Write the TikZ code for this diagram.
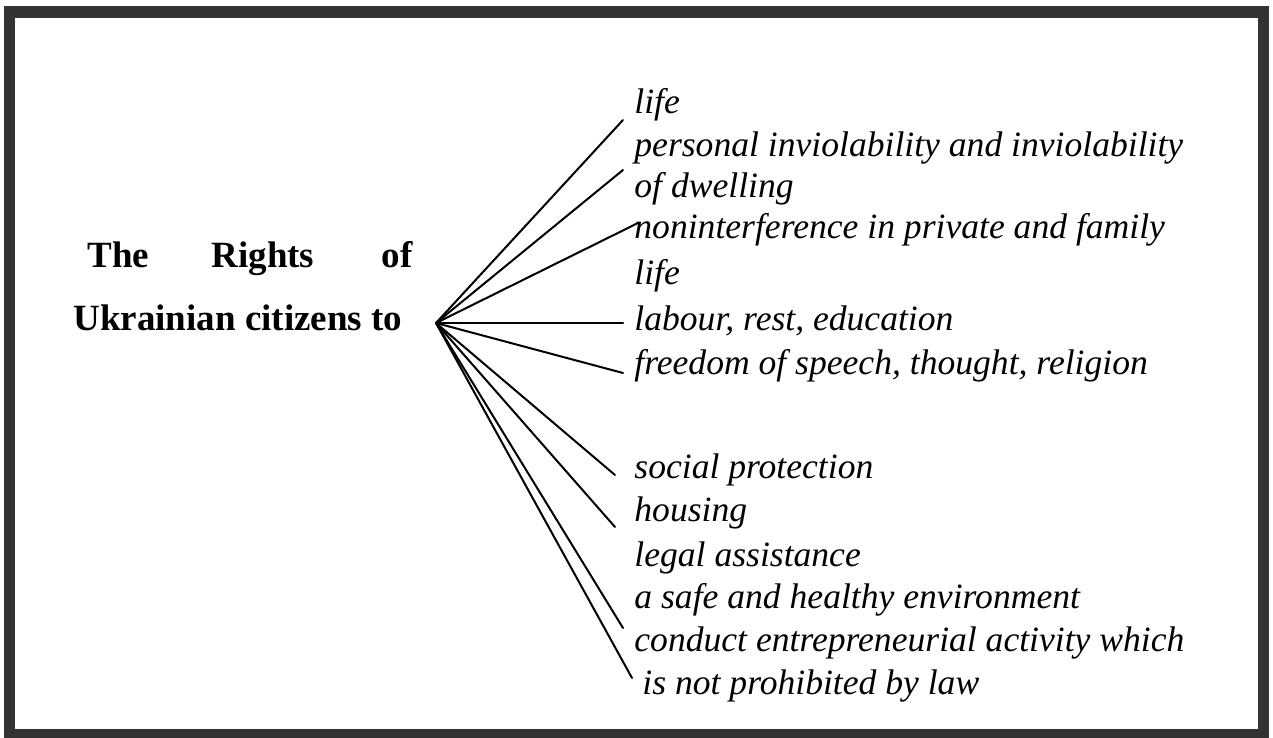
\documentclass[tikz,border=0pt]{standalone}
\usepackage{fontspec}
\setmainfont{Liberation Serif}
\definecolor{framegray}{HTML}{333333}
\begin{document}
\begin{tikzpicture}[x=0.5pt,y=-0.5pt,
  item/.style={anchor=base west, inner sep=0pt, font=\fontsize{17.8}{21}\selectfont\itshape},
  title/.style={inner sep=0pt, font=\fontsize{18.5}{22}\selectfont\bfseries},
  ray/.style={line width=1pt, line cap=round}]
\useasboundingbox (0,0) rectangle (1273,738);
\fill[white] (0,0) rectangle (1273,738);
\fill[framegray] (4,6) rectangle (1269,738);
\fill[white] (15,18) rectangle (1258,729);
% title
\node[title, anchor=base west] (t1) at (87,267) {The};
\node[title, anchor=base] (t2) at (263,267) {Rights};
\node[title, anchor=base east] (t3) at (413,267) {of};
\node[title, anchor=base west] (t4) at (73,330) {Ukrainian citizens to};
% items
\node[item] (i1) at (634,113) {life};
\node[item] (i2) at (634,156) {personal inviolability and inviolability};
\node[item] (i3) at (634,197) {of dwelling};
\node[item] (i4) at (634,238) {noninterference in private and family};
\node[item] (i5) at (634,284) {life};
\node[item] (i6) at (634,330) {labour, rest, education};
\node[item] (i7) at (634,374) {freedom of speech, thought, religion};
\node[item] (i8) at (634,478) {social protection};
\node[item] (i9) at (634,521) {housing};
\node[item] (i10) at (634,566) {legal assistance};
\node[item] (i11) at (634,608) {a safe and healthy environment};
\node[item] (i12) at (634,651) {conduct entrepreneurial activity which};
\node[item] (i13) at (642,694) {is not prohibited by law};
% hub and ray ends
\coordinate (hub) at (436,323);
\coordinate (e1) at (623,120);
\coordinate (e2) at (623,170);
\coordinate (e3) at (638,223);
\coordinate (e4) at (623,323);
\coordinate (e5) at (623,373);
\coordinate (e6) at (615,475);
\coordinate (e7) at (615,527);
\coordinate (e8) at (623,628);
\coordinate (e9) at (632,678);
\foreach \e in {e1,e2,e3,e4,e5,e6,e7,e8,e9}
  \draw[ray] (hub) -- (\e);
\end{tikzpicture}
\end{document}
